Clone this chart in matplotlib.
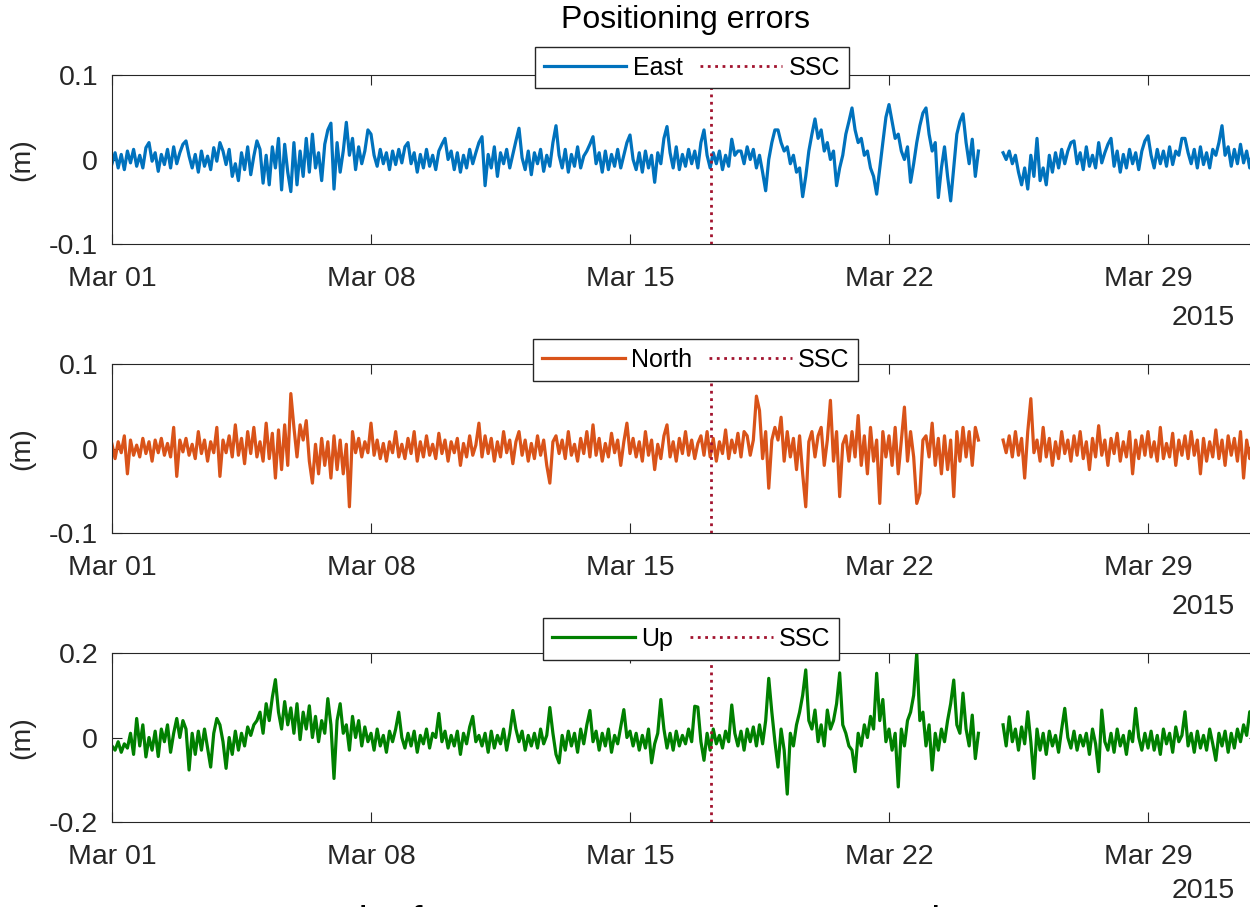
"""Positioning errors (East / North / Up) for March 2015, with the SSC marked.

Values are read off the reference figure at a 2-hour spacing, in mm.
Output: out.png
"""

import numpy as np
import matplotlib
matplotlib.use('Agg')
import matplotlib.pyplot as plt
import matplotlib.dates as mdates

plt.rcParams['font.family'] = ['Liberation Sans', 'DejaVu Sans']

SEG1_START = np.datetime64('2015-03-01T00:00')
SEG2_START = np.datetime64('2015-03-25T02:00')
STEP = np.timedelta64(2, 'h')
SSC_TIME = np.datetime64('2015-03-17T04:45')
TICK_DATES = ['2015-03-01', '2015-03-08', '2015-03-15', '2015-03-22', '2015-03-29']

# East (mm), one row per day, before and after the data gap
east_seg1 = [
    -5, 8, -10, 6, -12, 10, -4, 12, -8, 5, -10, 14,
    20, -2, 8, -14, 6, -6, 12, -10, 15, -5, 8, 18,
    22, 4, -10, 6, -15, 10, -8, 4, -12, 14, -2, 20,
    10, -6, 12, -20, -5, -25, 8, -12, 15, -18, 4, 22,
    12, -28, 5, -30, 15, -10, 25, -36, 18, -15, -38, 20,
    -30, 10, -20, 25, -15, 30, -10, 8, -25, 18, 35, 43,
    -35, 20, -15, 10, 44, 5, 25, -12, 15, -5, 10, 35,
    30, 5, -8, 12, -5, 8, -12, 10, -6, 12, -4, 15,
    20, -5, 8, -15, 6, -10, 12, -8, 5, -12, 10, 18,
    25, 0, 10, -12, 8, -15, 5, -10, 12, -5, 8, 20,
    27, -31, 6, -10, 15, -20, 8, -5, 12, -10, 6, 22,
    37, 2, -12, 10, -18, 8, -5, 12, -14, 5, -8, 20,
    40, 5, -10, 12, -15, 6, -8, 15, -10, 4, 10, 18,
    27, -5, 8, -15, 10, -12, 6, -8, 12, -10, 5, 20,
    29, 0, -12, 8, -15, 10, -10, 5, -27, 8, -5, 25,
    39, 8, -10, 15, -12, 6, -8, 12, -5, 10, -10, 20,
    35, 5, -10, 8, -5, 10, -12, 5, -8, 24, 5, 10,
    10, -5, 15, 0, 12, -10, 5, -15, -37, 0, 20, 35,
    35, 20, 10, 15, -5, 5, -15, -10, -44, -20, 10, 30,
    48, 25, 35, 10, 20, 0, 10, -31, -10, 5, 30, 45,
    61, 35, 20, 25, 5, 10, -10, -20, -41, -10, 20, 50,
    65, 45, 25, 30, 10, 0, 15, -27, -5, 20, 40, 55,
    61, 30, 10, 20, -45, -10, 15, -20, -49, -10, 30, 45,
    54, 20, -5, 24, -20, 10,
]
east_seg2 = [
    8, 0, 10, -5, 5, -15, -30, -10, -35, 5, -20,
    25, -25, -10, -30, 5, -15, 8, -10, 12, -5, 10, 20,
    22, -5, 8, -12, 15, -8, 5, -10, 20, -4, 8, 18,
    25, -8, 10, -15, 6, -10, 12, -5, 8, -12, 10, 22,
    28, 5, -10, 12, -5, 10, -8, 15, -6, 10, 5, 25,
    25, 8, -5, 12, -10, 15, -6, 8, -10, 12, 5, 20,
    40, 5, 15, -8, 12, -5, 18, -4, 10, -10, 15, 5,
]

# North (mm)
north_seg1 = [
    5, -12, 8, -5, 15, -30, 10, -8, 4, -10, 12, -6,
    8, -15, 10, -5, 12, -8, 6, -10, 25, -33, 10, -4,
    12, -8, 5, -12, 20, -6, 10, -15, 8, -5, 25, -33,
    10, -5, 15, -10, 28, -8, 12, -18, 20, -6, 25, -10,
    8, -15, 30, -12, 18, -35, 22, -25, 28, -20, 65, 25,
    -10, 28, 10, 33, -15, -41, 5, -30, 12, -20, 8, -35,
    15, -25, 10, -30, 5, -69, 20, -5, 12, -10, 8, -5,
    30, -8, 10, -12, 6, -15, 8, -5, 20, -10, 5, -12,
    12, -6, 20, -15, 8, -10, 15, -8, 5, -12, 18, -6,
    10, -15, 8, -5, 12, -20, 6, -10, 15, -8, 4, 30,
    -10, 15, -6, 12, -15, 8, -10, 20, -5, 10, -18, 8,
    20, -8, 10, -15, 6, -12, 15, -8, 10, -20, -41, 8,
    15, -6, 10, -12, 20, -8, 5, -15, 12, -6, 20, -10,
    28, -8, 12, -15, 6, -10, 18, -5, 10, -20, 8, 30,
    -6, 12, -10, 8, -15, 20, -8, 10, -25, 5, -12, 15,
    28, -10, 8, -15, 12, -6, 20, -8, 10, -12, 6, 15,
    -8, 20, -10, 12, -15, 8, -6, 22, -12, 10, -5, 18,
    -10, 20, 15, -8, 10, 62, 45, -12, 20, -47, 10, 25,
    10, 37, -15, 20, -10, 12, -25, 15, -30, -69, 8, 20,
    -10, 15, 25, -20, 10, 57, -15, 20, -57, 5, 15, -15,
    20, -10, 39, -20, 15, -30, 25, -15, 10, -65, 20, -10,
    15, -20, 25, -30, 10, 49, -15, 20, -10, -65, -53, 10,
    15, -10, 30, -20, 12, -30, 15, -25, 10, -57, 20, -15,
    25, -10, 20, -20, 25, 10,
]
north_seg2 = [
    10, -5, 15, -10, 20, -8, 12, -35, 20, 59, -5,
    10, -15, 25, -10, 12, -20, 8, -12, 20, -6, 10, -15,
    15, -8, 20, -12, 8, -25, 12, -10, 27, -8, 10, -20,
    12, -6, 18, -15, 8, -10, 20, -30, 10, -12, 15, -8,
    20, -10, 8, -15, 25, -12, 6, -10, 18, -20, 10, -8,
    15, -12, 20, -8, 10, -30, 12, -15, 8, -10, 22, -12,
    10, -20, 15, -8, 12, -15, 20, -35, 10, -12, 18, -10,
]

# Up (mm)
up_seg1 = [
    -20, -30, -10, -35, -15, -25, 10, -40, 45, -20, 30, -46,
    0, -30, 15, -45, 20, -10, 30, -35, 10, 45, 0, 40,
    20, -77, 10, -40, 15, -30, 20, -25, -70, 10, 45, 30,
    -10, -73, 0, -40, 15, -30, 10, -20, 25, 5, 30, 40,
    60, 10, 80, 40, 95, 137, 60, 20, 85, 30, 70, 10,
    80, -5, 60, 20, 75, 0, 50, -10, 40, 10, 92, 30,
    -97, 40, 80, 10, 30, -30, 50, 0, 40, -20, 25, -10,
    10, -30, 20, -20, 5, -35, 15, -10, 20, 60, 0, -25,
    10, -20, 15, -35, 5, -15, 20, -25, 10, 0, 57, -10,
    15, -25, 5, -20, 15, -40, 10, -15, 25, 50, -10, 5,
    -20, 10, -35, 15, -25, 5, -15, 20, -30, 10, 64, 20,
    -10, 15, -30, 5, -20, 10, -25, 20, -15, 5, 71, 10,
    -40, -60, 5, -30, 15, -20, 10, -35, 20, -15, 30, 64,
    -10, 15, -30, 10, -20, 20, -35, 5, -15, 25, 66, 0,
    15, -20, 10, -30, 5, -25, 20, -60, -15, 10, 90, 20,
    -25, 10, -30, 15, -20, 5, -15, 20, -10, 74, 72, -10,
    -54, 10, -30, 20, -15, 5, -25, 15, -10, 77, 10, -20,
    15, -30, 20, -10, 25, -20, 30, -15, 40, 140, 60, -10,
    -70, 20, -30, -134, 10, -20, 30, 60, 100, 160, 40, 20,
    65, -10, 30, -20, 65, 20, 40, 80, 153, 30, 10, -20,
    -30, -81, 10, -20, 30, 0, 50, 20, 152, 40, 90, -10,
    20, -30, 10, -117, 20, -20, 40, 60, 100, 200, 40, 60,
    -20, 30, -77, 10, -30, 20, -10, 40, 80, 136, 30, 10,
    105, 20, -20, 53, -50, 10,
]
up_seg2 = [
    30, -20, 49, -10, 20, -30, 25, -15, 61, -10, -97,
    20, -30, 10, -40, 15, -20, 5, -35, 20, 69, 0, -25,
    15, -30, 5, -20, 10, -40, 20, -15, -81, 65, -10, -30,
    10, -35, 20, -20, 5, -40, 15, -10, 69, 0, -30, 10,
    -25, 15, -30, 5, -40, 20, -15, 10, -35, 25, -10, 5,
    61, -20, 10, -35, 15, -25, 5, -30, 20, -15, -54, 10,
    -20, 15, -35, 10, -25, 20, -10, 30, 5, 61, 20, 40,
]


def build_series(seg1, seg2):
    """Join both segments with a NaN so the line breaks over the gap; mm -> m."""
    t1 = SEG1_START + STEP * np.arange(len(seg1))
    t2 = SEG2_START + STEP * np.arange(len(seg2))
    t = np.concatenate([t1, [t1[-1] + STEP], t2])
    y = np.concatenate([seg1, [np.nan], seg2]) / 1000.0
    return t, y


TEXT = '#262626'
W, H = 1250, 907
left, width, height = 112 / W, 1147 / W, 169 / H

panels = [
    # label, data, colour, y-limit, axes bottom (px), legend anchor, year offset (pt)
    ('East', east_seg1, east_seg2, '#0072BD', 0.1, 244, (0.5057, 1.044), -53),
    ('North', north_seg1, north_seg2, '#D95319', 0.1, 533, (0.509, 1.024), -53),
    ('Up', up_seg1, up_seg2, '#008000', 0.2, 822, (0.505, 1.083), -50),
]

fig = plt.figure(figsize=(W / 100, H / 100), dpi=100)

for name, seg1, seg2, color, ylim, bottom_px, leg_anchor, year_dy in panels:
    ax = fig.add_axes([left, 1 - bottom_px / H, width, height])
    t, y = build_series(seg1, seg2)
    ax.plot(t, y, color=color, lw=2.3, label=name)
    ax.axvline(SSC_TIME, color='#A2142F', ls=':', lw=2, label='SSC')

    ax.set_xlim(np.datetime64('2015-03-01'), np.datetime64('2015-04-01'))
    ax.set_ylim(-ylim, ylim)
    ax.set_yticks([-ylim, 0, ylim])
    ax.set_yticklabels([f'{-ylim:g}', '0', f'{ylim:g}'])
    ax.set_xticks([mdates.date2num(np.datetime64(d)) for d in TICK_DATES])
    ax.xaxis.set_major_formatter(mdates.DateFormatter('%b %d'))

    ax.tick_params(direction='in', length=7, width=0.8, top=True, right=True,
                   labelsize=20.5, labelcolor=TEXT, color=TEXT)
    ax.tick_params(axis='x', pad=16)
    ax.tick_params(axis='y', pad=10)
    for sp in ax.spines.values():
        sp.set_color(TEXT)
        sp.set_linewidth(0.8)

    ax.set_ylabel('(m)', fontsize=20.5, color=TEXT)
    ax.yaxis.set_label_coords(-0.067, 0.5)

    ax.annotate('2015', xy=(0.979, 0), xycoords='axes fraction',
                xytext=(0, year_dy), textcoords='offset points',
                ha='right', va='center', fontsize=20.5, color=TEXT)

    leg = ax.legend(loc='center', bbox_to_anchor=leg_anchor, ncol=2,
                    fontsize=18, frameon=True, fancybox=False, framealpha=1,
                    edgecolor=TEXT, handlelength=3.3, handletextpad=0.25,
                    columnspacing=0.7, borderpad=0.35, borderaxespad=0)
    leg.get_frame().set_linewidth(1.0)

fig.text(left + width / 2, 1 - 20 / H, 'Positioning errors',
         ha='center', va='center', fontsize=23, color='black')

# slide text below the figure, only the tops of its letters show
base_y = -0.031
fig.text(25 / W, base_y, '\u27a2', family=['DejaVu Sans'], fontsize=30,
         va='baseline', color='black')
fig.text(110 / W, base_y, 'No more results from some processors over the event',
         fontsize=29.5, va='baseline', color='black')

fig.savefig('out.png', dpi=100)
plt.close(fig)
